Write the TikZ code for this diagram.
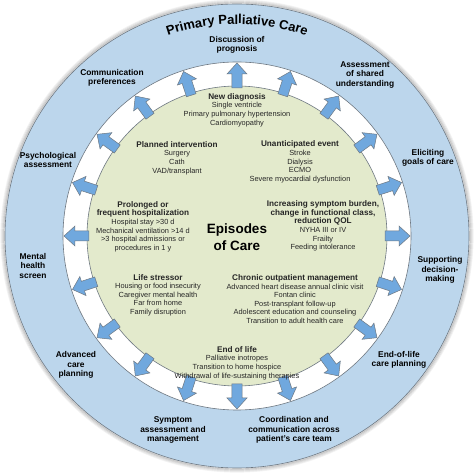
\documentclass[tikz,border=0pt]{standalone}
\usepackage{fontspec}
\setmainfont{Liberation Sans}
\usetikzlibrary{decorations.text}
\definecolor{ringblue}{RGB}{188,214,236}
\definecolor{coregreen}{RGB}{227,234,204}
\definecolor{arrblue}{RGB}{112,168,222}
\definecolor{edgegray}{RGB}{110,120,130}
\newcommand\eptitle[1]{\textbf{\fontsize{8.2}{8.6}\selectfont #1}}
\tikzset{
  ringlabel/.style={font=\bfseries\fontsize{8.4}{9.3}\selectfont, align=center, text=black},
  episode/.style={font=\fontsize{7.4}{8.6}\selectfont, align=center, text=black!85},
  blockarrow/.style={fill=arrblue, draw=edgegray, line width=0.5pt, line join=miter},
}
\begin{document}
\begin{tikzpicture}[x=1pt,y=1pt]
\useasboundingbox (-237,-237) rectangle (237,236);
% shadow rim
\foreach \r/\o in {236/0.10,235/0.18,234/0.28,233/0.38}{
  \draw[gray, line width=1.2pt, opacity=\o] (0,0) circle[radius=\r];
}
\fill[ringblue] (0,0) circle[radius=232];
\draw[edgegray, line width=0.6pt] (0,0) circle[radius=232];
\fill[white] (0,0) circle[radius=174];
\draw[edgegray, line width=0.6pt] (0,0) circle[radius=174];
\fill[coregreen] (0,0) circle[radius=150];
\draw[edgegray, line width=0.6pt] (0,0) circle[radius=150];
% arrows
\foreach \a in {0,18,...,342}{
  \draw[blockarrow, rotate=\a] (148,-5) -- (162,-5) -- (162,-10) -- (173,0) -- (162,10) -- (162,5) -- (148,5) -- cycle;
}
% curved title
\path[decorate, decoration={text along path, text align=center,
  text={|\bfseries\fontsize{13}{13}\selectfont|Primary Palliative Care}}]
  (130:212) arc[start angle=130, end angle=50, radius=212];
% ring labels
\node[ringlabel] (prog) at (0,191) {Discussion of\\prognosis};
\node[ringlabel] (shared) at (128,161) {Assessment\\of shared\\understanding};
\node[ringlabel] (comm) at (-125,158) {Communication\\preferences};
\node[ringlabel] (psych) at (-189,76) {Psychological\\assessment};
\node[ringlabel] (goals) at (191,78) {Eliciting\\goals of care};
\node[ringlabel] (mental) at (-204,-30) {Mental\\health\\screen};
\node[ringlabel] (support) at (203,-34) {Supporting\\decision-\\making};
\node[ringlabel] (acp) at (-161,-129) {Advanced\\care\\planning};
\node[ringlabel] (eol) at (162,-124) {End-of-life\\care planning};
\node[ringlabel] (symp) at (-64,-194) {Symptom\\assessment and\\management};
\node[ringlabel] (coord) at (57,-194) {Coordination and\\communication across\\patient's care team};
% episodes
\node[font=\bfseries\fontsize{13.5}{17}\selectfont, align=center] (center) at (0,-1) {Episodes\\of Care};
\node[episode] (newdx) at (0,126) {\eptitle{New diagnosis}\\Single ventricle\\Primary pulmonary hypertension\\Cardiomyopathy};
\node[episode] (planned) at (-60,78) {\eptitle{Planned intervention}\\Surgery\\Cath\\VAD/transplant};
\node[episode] (unant) at (63,74) {\eptitle{Unanticipated event}\\Stroke\\Dialysis\\ECMO\\Severe myocardial dysfunction};
\node[episode] (prolonged) at (-94,9.5) {\eptitle{Prolonged or}\\\eptitle{frequent hospitalization}\\Hospital stay >30 d\\Mechanical ventilation >14 d\\>3 hospital admissions or\\procedures in 1 y};
\node[episode] (increasing) at (86,10) {\eptitle{Increasing symptom burden,}\\\eptitle{change in functional class,}\\\eptitle{reduction QOL}\\NYHA III or IV\\Frailty\\Feeding intolerance};
\node[episode] (stressor) at (-79,-59) {\eptitle{Life stressor}\\Housing or food insecurity\\Caregiver mental health\\Far from home\\Family disruption};
\node[episode] (chronic) at (58,-63) {\eptitle{Chronic outpatient management}\\Advanced heart disease annual clinic visit\\Fontan clinic\\Post-transplant follow-up\\Adolescent education and counseling\\Transition to adult health care};
\node[episode] (endlife) at (0,-127) {\eptitle{End of life}\\Palliative inotropes\\Transition to home hospice\\Withdrawal of life-sustaining therapies};
\end{tikzpicture}
\end{document}
